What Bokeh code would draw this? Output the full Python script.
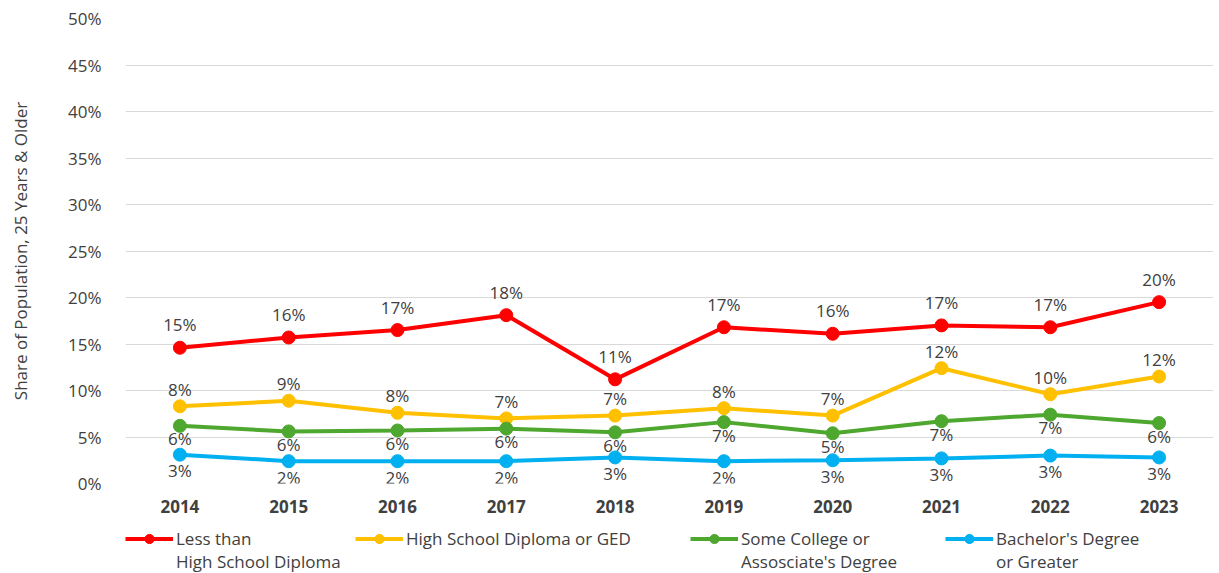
from bokeh.plotting import figure
from bokeh.layouts import column
from bokeh.models import Legend, LegendItem, NumeralTickFormatter, ColumnDataSource
from bokeh.core.properties import value
from bokeh.embed import file_html
from bokeh.resources import INLINE

years = ["2014", "2015", "2016", "2017", "2018", "2019", "2020", "2021", "2022", "2023"]

less_hs = [14.6, 15.7, 16.5, 18.1, 11.2, 16.8, 16.1, 17.0, 16.8, 19.5]
less_hs_labels = ["15%", "16%", "17%", "18%", "11%", "17%", "16%", "17%", "17%", "20%"]

hs_ged = [8.3, 8.9, 7.6, 7.0, 7.3, 8.1, 7.3, 12.4, 9.6, 11.5]
hs_ged_labels = ["8%", "9%", "8%", "7%", "7%", "8%", "7%", "12%", "10%", "12%"]

some_college = [6.2, 5.6, 5.7, 5.9, 5.5, 6.6, 5.4, 6.7, 7.4, 6.5]
some_college_labels = ["6%", "6%", "6%", "6%", "6%", "7%", "5%", "7%", "7%", "6%"]

bachelor = [3.1, 2.4, 2.4, 2.4, 2.8, 2.4, 2.5, 2.7, 3.0, 2.8]
bachelor_labels = ["3%", "2%", "2%", "2%", "3%", "2%", "3%", "3%", "3%", "3%"]

series_names = [["Less than", "High School Diploma"], ["High School Diploma or GED"],
                ["Some College or", "Assosciate's Degree"], ["Bachelor's Degree", "or Greater"]]
colors = ["#FF0000", "#FFC000", "#4EA72E", "#00B0F0"]

FONT = "Open Sans"
TXT = "#404040"

p = figure(x_range=years, y_range=(0, 0.5), frame_width=1088, frame_height=465,
           min_border_left=125, min_border_right=2, min_border_top=18, min_border_bottom=36,
           output_backend="svg", toolbar_location=None, background_fill_color="white",
           border_fill_color="white")
p.outline_line_color = None

p.yaxis.formatter = NumeralTickFormatter(format="0%")
p.yaxis.ticker = [i / 100 for i in range(0, 55, 5)]
p.yaxis.axis_label = "Share of Population, 25 Years & Older"
p.yaxis.axis_label_text_font = FONT
p.yaxis.axis_label_text_font_style = "normal"
p.yaxis.axis_label_text_font_size = "17px"
p.yaxis.axis_label_text_color = TXT
p.yaxis.axis_label_standoff = 33
for ax in (p.xaxis, p.yaxis):
    ax.axis_line_color = None
    ax.major_tick_line_color = None
    ax.minor_tick_line_color = None
    ax.major_label_text_font = FONT
    ax.major_label_text_font_size = "17px"
    ax.major_label_text_color = TXT
p.yaxis.major_label_standoff = 18
p.xaxis.major_label_standoff = 10
p.xaxis.major_label_text_font_style = "bold"

p.xgrid.grid_line_color = None
p.ygrid.grid_line_color = "#D9D9D9"
p.ygrid.grid_line_width = 1

all_vals = [less_hs, hs_ged, some_college, bachelor]
all_labels = [less_hs_labels, hs_ged_labels, some_college_labels, bachelor_labels]
offsets = [-23, -17, 13, 16]

for vals, labs, col, off in zip(all_vals, all_labels, colors, offsets):
    src = ColumnDataSource(dict(x=years, y=[v / 100 for v in vals], lab=labs))
    p.line("x", "y", source=src, line_color=col, line_width=4)
    p.scatter("x", "y", source=src, size=13, fill_color=col, line_color=col)
    p.text("x", "y", text="lab", source=src, y_offset=off, text_align="center",
           text_baseline="middle", text_font=value(FONT), text_font_size="17px",
           text_color=TXT)

# legend strip below the chart (its frame is aligned with the chart frame)
leg = figure(width=p.frame_width + 127, height=54, x_range=(0, 1), y_range=(0, 1),
             x_axis_location=None, y_axis_location=None, min_border=0,
             output_backend="svg", toolbar_location=None,
             background_fill_color="white", border_fill_color="white")
leg.outline_line_color = None
leg.grid.visible = False

legend_x = [0, 230, 565, 820]
nan = float("nan")
for names, col, lx in zip(series_names, colors, legend_x):
    dummy = ColumnDataSource(dict(x=[nan], y=[nan]))
    ln = leg.line("x", "y", source=dummy, line_color=col, line_width=4)
    sc = leg.scatter("x", "y", source=dummy, size=12, fill_color=col, line_color=col)
    ghost = leg.scatter("x", "y", source=dummy, fill_alpha=0, line_alpha=0)
    its = [LegendItem(label=names[0], renderers=[ln, sc])]
    for extra in names[1:]:
        its.append(LegendItem(label=extra, renderers=[ghost]))
    lg = Legend(items=its, orientation="vertical", location=(lx, 54 - 8 - 23 * len(names)),
                border_line_color=None, background_fill_alpha=0,
                label_text_font=FONT, label_text_font_size="17px", label_text_color=TXT,
                label_height=23, glyph_width=48, glyph_height=23, label_standoff=3,
                spacing=0, padding=0, margin=0)
    leg.add_layout(lg, "center")

layout = column(p, leg, spacing=0)
open("out.html", "w").write(file_html(layout, INLINE))
